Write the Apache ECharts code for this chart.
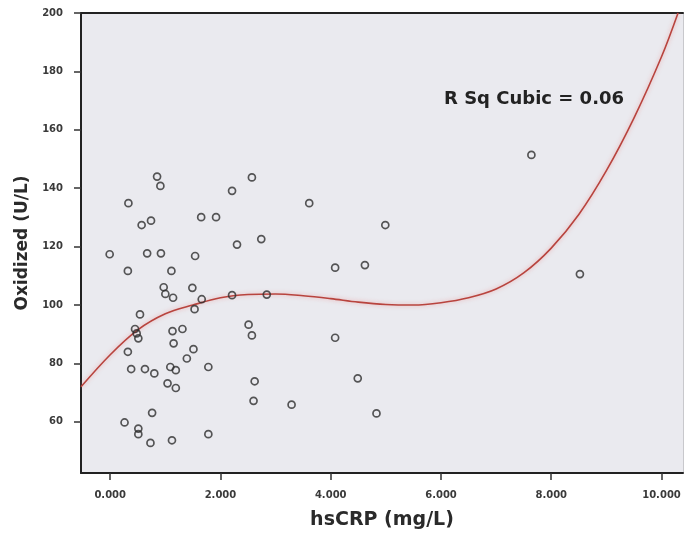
<!DOCTYPE html>
<html>
<head>
<meta charset="utf-8">
<script src="https://cdn.jsdelivr.net/npm/echarts@6/dist/echarts.min.js"></script>
<style>
    html, body { margin: 0; padding: 0; background: #ffffff; }
    #chart { width: 689px; height: 538px; }
</style>
</head>
<body>
<div id="chart"></div>
<script>
var hsCRP = [
    0.85, 0.91, 0.33, 2.21, 2.57, 0.57, 0.74, 1.65, 1.92, 2.30,
    2.74, 3.61, 4.99, -0.01, 0.67, 0.92, 1.54, 0.32, 1.11, 4.08,
    4.62, 0.97, 1.00, 1.14, 1.49, 1.66, 2.21, 2.84, 1.53, 0.54,
    0.45, 0.48, 0.51, 1.13, 1.31, 1.15, 0.32, 1.51, 1.39, 1.78,
    0.38, 0.63, 0.80, 1.09, 1.19, 1.04, 1.19, 0.76, 0.26, 0.51,
    0.51, 0.73, 1.12, 1.78, 2.51, 2.57, 4.08, 2.62, 4.49, 2.60,
    3.29, 4.83, 7.64, 8.52
];
var oxidized = [
    144.0, 140.8, 134.9, 139.1, 143.7, 127.4, 128.9, 130.1, 130.1, 120.7,
    122.6, 134.9, 127.4, 117.4, 117.7, 117.7, 116.8, 111.7, 111.7, 112.8,
    113.7, 106.1, 103.8, 102.5, 105.9, 102.0, 103.4, 103.6, 98.6, 96.8,
    91.8, 90.3, 88.6, 91.1, 91.8, 86.9, 84.0, 84.9, 81.7, 78.8,
    78.1, 78.1, 76.6, 78.8, 77.7, 73.2, 71.6, 63.1, 59.8, 57.7,
    55.8, 52.8, 53.7, 55.8, 93.3, 89.6, 88.8, 73.9, 74.9, 67.2,
    65.9, 62.9, 151.4, 110.6
];

// cubic fit curve
var fitX = [-0.53, 0, 0.5, 1.0, 1.5, 2.0, 2.5, 3.0, 3.5, 4.0, 4.5, 5.0, 5.5,
            6.0, 6.5, 7.0, 7.5, 8.0, 8.5, 9.0, 9.5, 10.0, 10.3];
var fitY = [72, 83, 91.5, 97, 100, 102.5, 103.6, 103.8, 103.2, 102.2, 101, 100.2, 100,
            100.8, 102.5, 105.5, 111, 119.5, 131, 146, 164, 185, 200];

var xTicks = [0, 2, 4, 6, 8, 10];
var yTicks = [60, 80, 100, 120, 140, 160, 180, 200];

var xName = "hsCRP (mg/L)";
var yName = "Oxidized (U/L)";
var fitLabel = "R Sq Cubic = 0.06";

var labelFont = {
    fontFamily: "DejaVu Sans",
    fontWeight: "bold",
    fontSize: 10,
    color: "#3a3a3a"
};

var points = [];
for (var i = 0; i < hsCRP.length; i++) {
    points.push([hsCRP[i], oxidized[i]]);
}
var fitLine = [];
for (var j = 0; j < fitX.length; j++) {
    fitLine.push([fitX[j], fitY[j]]);
}

var option = {
    animation: false,
    backgroundColor: "#ffffff",
    grid: {
        left: 81,
        right: 6,
        top: 13,
        bottom: 65,
        show: true,
        backgroundColor: "#eaeaef",
        borderWidth: 0
    },
    xAxis: [{
        type: "value",
        position: "bottom",
        min: -0.53,
        max: 10.39,
        splitLine: { show: false },
        axisLine: { show: true, onZero: false, lineStyle: { color: "#222", width: 2 } },
        axisTick: {
            show: true,
            length: 7,
            customValues: xTicks,
            lineStyle: { color: "#333", width: 1.5 }
        },
        axisLabel: Object.assign({
            margin: 17,
            customValues: xTicks,
            formatter: function(v) { return v.toFixed(3); }
        }, labelFont),
        name: xName,
        nameLocation: "middle",
        nameGap: 38,
        nameTextStyle: {
            fontFamily: "DejaVu Sans",
            fontWeight: "bold",
            fontSize: 19,
            color: "#2a2a2a"
        }
    }, {
        type: "value",
        position: "top",
        min: 0,
        max: 1,
        splitLine: { show: false },
        axisLine: { show: true, onZero: false, lineStyle: { color: "#222", width: 2 } },
        axisTick: { show: false },
        axisLabel: { show: false }
    }],
    yAxis: [{
        type: "value",
        position: "left",
        min: 42.5,
        max: 200,
        splitLine: { show: false },
        axisLine: { show: true, onZero: false, lineStyle: { color: "#222", width: 2 } },
        axisTick: {
            show: true,
            length: 7,
            customValues: yTicks,
            lineStyle: { color: "#333", width: 1.5 }
        },
        axisLabel: Object.assign({
            margin: 18,
            customValues: yTicks
        }, labelFont),
        name: yName,
        nameLocation: "middle",
        nameGap: 49,
        nameTextStyle: {
            fontFamily: "DejaVu Sans",
            fontWeight: "bold",
            fontSize: 17,
            color: "#2a2a2a"
        }
    }, {
        type: "value",
        position: "right",
        min: 0,
        max: 1,
        splitLine: { show: false },
        axisLine: { show: true, onZero: false, lineStyle: { color: "#c8c8cc", width: 1 } },
        axisTick: { show: false },
        axisLabel: { show: false }
    }],
    graphic: [{
        type: "text",
        left: 444,
        top: 90,
        style: {
            text: fitLabel,
            fontFamily: "DejaVu Sans",
            fontWeight: "bold",
            fontSize: 18,
            fill: "#222"
        }
    }],
    series: [{
        type: "line",
        data: fitLine,
        smooth: 0.35,
        showSymbol: false,
        clip: true,
        lineStyle: {
            color: "#b8443e",
            width: 1.6,
            shadowColor: "rgba(235,140,140,0.7)",
            shadowBlur: 4
        },
        z: 2
    }, {
        type: "scatter",
        data: points,
        symbol: "circle",
        symbolSize: 7,
        itemStyle: {
            color: "rgba(0,0,0,0)",
            borderColor: "#2e2e2e",
            borderWidth: 1.7
        },
        z: 3
    }]
};

echarts.init(document.getElementById("chart")).setOption(option);
</script>
</body>
</html>
